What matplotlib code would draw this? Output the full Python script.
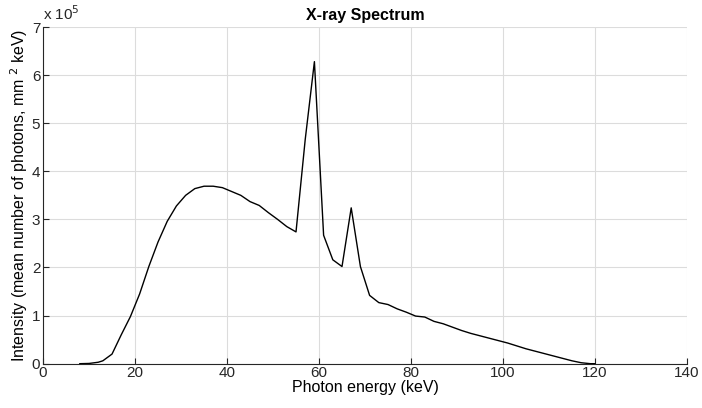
import matplotlib
matplotlib.use("Agg")
import matplotlib.pyplot as plt

# photon energy (keV) and intensity (x 1e5)
energy = [8, 10, 12, 13, 15, 17, 19, 21, 23, 25, 27, 29, 31, 33, 35, 37, 39,
          41, 43, 45, 47, 49, 51, 53, 55, 57, 59, 61, 63, 65, 67, 69, 71, 73,
          75, 77, 79, 81, 83, 85, 87, 89, 91, 93, 95, 97, 99, 101, 103, 105,
          107, 109, 111, 113, 115, 117, 119, 120]
intensity = [0.0, 0.005, 0.03, 0.06, 0.2, 0.6, 0.98, 1.45, 2.02, 2.53, 2.96,
             3.28, 3.5, 3.64, 3.69, 3.69, 3.66, 3.58, 3.5, 3.37, 3.29, 3.14,
             3.0, 2.85, 2.74, 4.66, 6.28, 2.67, 2.16, 2.02, 3.24, 2.02, 1.42,
             1.27, 1.23, 1.14, 1.07, 0.99, 0.97, 0.88, 0.83, 0.76, 0.69, 0.63,
             0.58, 0.53, 0.48, 0.43, 0.37, 0.31, 0.26, 0.21, 0.16, 0.11, 0.06,
             0.02, 0.0, 0.0]

xticks = [0, 20, 40, 60, 80, 100, 120, 140]
yticks = [0, 1, 2, 3, 4, 5, 6, 7]

plt.rcParams['font.family'] = ['Liberation Sans', 'DejaVu Sans']
plt.rcParams['font.size'] = 11

fig = plt.figure(figsize=(7.02, 4.08), dpi=100)
ax = fig.add_axes([0.0613, 0.1086, 0.9173, 0.8252])

ax.plot(energy, intensity, color="black", linewidth=1.0)

ax.set_xlim(0, 140)
ax.set_ylim(0, 7)
ax.set_xticks(xticks)
ax.set_yticks(yticks)
ax.tick_params(direction="in", length=4, colors="#262626", labelsize=11, pad=2)
ax.grid(True, color="#dcdcdc", linewidth=0.8)
ax.set_axisbelow(True)
for side in ["top", "right"]:
    ax.spines[side].set_visible(False)
for side in ["left", "bottom"]:
    ax.spines[side].set_color("#262626")
    ax.spines[side].set_linewidth(0.8)

ax.set_title("X-ray Spectrum", fontweight="bold", fontsize=11.5, pad=5)
ax.set_xlabel("Photon energy (keV)", fontsize=11.5, labelpad=0)
ax.set_ylabel("Intensity (mean number of photons, mm $^{2}$ keV)", fontsize=11.5, labelpad=1)
ax.text(0.0, 1.022, "x 10$^{5}$", transform=ax.transAxes, fontsize=11,
        ha="left", va="baseline", color="#262626")

fig.savefig("out.png", dpi=100)
